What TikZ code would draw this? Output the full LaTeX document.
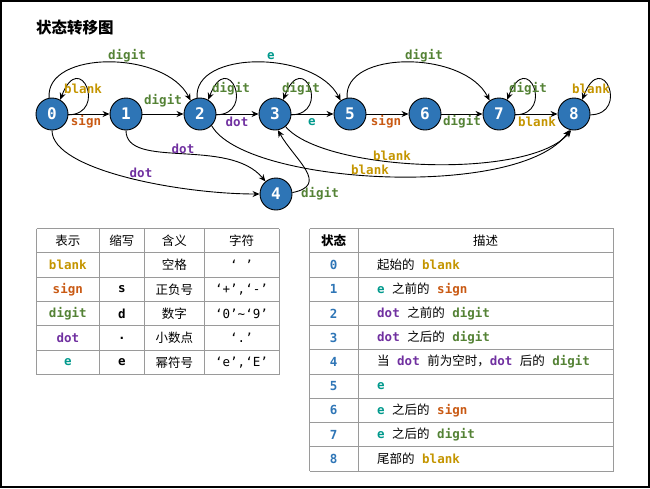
\documentclass[tikz,border=0pt]{standalone}
\usepackage{fontspec}
\setmainfont{Noto Sans CJK SC}
\setmonofont{DejaVu Sans Mono}
\usetikzlibrary{arrows.meta}
\definecolor{nblue}{HTML}{2E75B6}
\definecolor{cblank}{HTML}{C49500}
\definecolor{csign}{HTML}{C95A14}
\definecolor{cdigit}{HTML}{548235}
\definecolor{cdot}{HTML}{7030A0}
\definecolor{ce}{HTML}{00998C}
\definecolor{tgray}{HTML}{9A9A9A}
\newcommand{\kw}[2]{\textcolor{#1}{\ttfamily\bfseries #2}}
\newcommand{\gp}{\hspace{7.5pt}}
\tikzset{
  state/.style={circle, fill=nblue, draw=black, line width=0.9pt, minimum size=32pt, inner sep=0pt,
    text=white, font=\ttfamily\bfseries\fontsize{16}{16}\selectfont},
  arr/.style={-{Stealth[length=7pt,width=6pt]}, line width=0.9pt, black},
  lbl/.style={font=\ttfamily\bfseries\fontsize{12.5}{14}\selectfont, inner sep=0.5pt},
  tline/.style={draw=tgray, line width=0.9pt},
  cell/.style={font=\fontsize{12.5}{14}\selectfont, inner sep=0pt},
  mcell/.style={font=\ttfamily\fontsize{12.5}{14}\selectfont, inner sep=0pt},
  bcell/.style={font=\ttfamily\bfseries\fontsize{12.5}{14}\selectfont, inner sep=0pt}
}
\begin{document}
\begin{tikzpicture}[x=1pt,y=-1pt]
\useasboundingbox (0,0) rectangle (650,488);
\draw[line width=2pt] (1,1) rectangle (649,487);
\node[anchor=west, font=\bfseries\fontsize{15.5}{18}\selectfont, inner sep=0pt] (title) at (36,28) {状态转移图};

% states
\node[state] (n0) at (52,114) {0};
\node[state] (n1) at (126,114) {1};
\node[state] (n2) at (200,114) {2};
\node[state] (n3) at (275,114) {3};
\node[state] (n5) at (350,114) {5};
\node[state] (n6) at (425,114) {6};
\node[state] (n7) at (499,114) {7};
\node[state] (n8) at (574,114) {8};
\node[state] (n4) at (276,194) {4};

% straight transitions
\draw[arr] (n0) -- (n1);
\draw[arr] (n1) -- (n2);
\draw[arr] (n2) -- (n3);
\draw[arr] (n3) -- (n5);
\draw[arr] (n5) -- (n6);
\draw[arr] (n6) -- (n7);
\draw[arr] (n7) -- (n8);

% self loops
\draw[arr] (n0.-3) .. controls (108,114) and (80,48) .. (n0.60);
\draw[arr] (n2.-3) .. controls (256,114) and (228,48) .. (n2.60);
\draw[arr] (n3.-3) .. controls (331,114) and (303,48) .. (n3.60);
\draw[arr] (n7.-3) .. controls (555,114) and (527,48) .. (n7.60);
\draw[arr] (n8.-3) .. controls (630,114) and (602,48) .. (n8.60);

% upper arcs
\draw[arr] (n0.100) .. controls (45,50) and (165,50) .. (n2.125);
\draw[arr] (n2.100) .. controls (193,50) and (315,50) .. (n5.125);
\draw[arr] (n5.100) .. controls (343,50) and (464,50) .. (n7.125);

% lower curves
\draw[arr] (n1.south) .. controls (126,170) and (229,137) .. (n4.130);
\draw[arr] (n0.south) .. controls (52,170) and (180,194) .. (n4.west);
\draw[arr] (n4.5) .. controls (330,185) and (295,160) .. (n3.-80);
\draw[arr] (n3.-50) .. controls (324,172) and (530,180) .. (n8.-100);
\draw[arr] (n2.-45) .. controls (245,185) and (520,200) .. (n8.-105);

% labels
\node[lbl, text=cblank] (lb0) at (83,89) {blank};
\node[lbl, text=csign] (ls01) at (86,122) {sign};
\node[lbl, text=cdigit] (ld02) at (127,56) {digit};
\node[lbl, text=cdigit] (ld12) at (163,101) {digit};
\node[lbl, text=cdigit] (ld22) at (231,89) {digit};
\node[lbl, text=cdot] (lo23) at (237,122) {dot};
\node[lbl, text=ce] (le25) at (271,56) {e};
\node[lbl, text=cdigit] (ld33) at (301,89) {digit};
\node[lbl, text=ce] (le35) at (312,122) {e};
\node[lbl, text=cdigit] (ld57) at (424,56) {digit};
\node[lbl, text=csign] (ls56) at (386,122) {sign};
\node[lbl, text=cdigit] (ld67) at (462,122) {digit};
\node[lbl, text=cdigit] (ld77) at (528,89) {digit};
\node[lbl, text=cblank] (lb78) at (537,122) {blank};
\node[lbl, text=cblank] (lb88) at (591,89) {blank};
\node[lbl, text=cdot] (lo14) at (183,149) {dot};
\node[lbl, text=cdot] (lo04) at (141,173) {dot};
\node[lbl, text=cdigit] (ld43) at (320,194) {digit};
\node[lbl, text=cblank] (lb38) at (392,156) {blank};
\node[lbl, text=cblank] (lb28) at (370,170) {blank};

% left table
\foreach \k in {0,...,6} \draw[tline] (36.5,228.5+24.33*\k) -- (279,228.5+24.33*\k);
\foreach \xx in {36.5,99,144.5,204,279} \draw[tline] (\xx,228.5) -- (\xx,374.5);
\node[cell] (h1) at (67.8,240.7) {表示};
\node[cell] (h2) at (121.8,240.7) {缩写};
\node[cell] (h3) at (174.3,240.7) {含义};
\node[cell] (h4) at (241.5,240.7) {字符};
\node[bcell, text=cblank] (a1) at (67.8,265) {blank};
\node[cell] (c1) at (174.3,265) {空格};
\node[mcell] (d1) at (241.5,265) {‘ ’};
\node[bcell, text=csign] (a2) at (67.8,289.4) {sign};
\node[bcell] (b2) at (121.8,289.4) {s};
\node[cell] (c2) at (174.3,289.4) {正负号};
\node[mcell] (d2) at (241.5,289.4) {‘+’,‘-’};
\node[bcell, text=cdigit] (a3) at (67.8,313.7) {digit};
\node[bcell] (b3) at (121.8,313.7) {d};
\node[cell] (c3) at (174.3,313.7) {数字};
\node[mcell] (d3) at (241.5,313.7) {‘0’\textasciitilde‘9’};
\node[bcell, text=cdot] (a4) at (67.8,338) {dot};
\node[bcell] (b4) at (121.8,338) {.};
\node[cell] (c4) at (174.3,338) {小数点};
\node[mcell] (d4) at (241.5,338) {‘.’};
\node[bcell, text=ce] (a5) at (67.8,362.4) {e};
\node[bcell] (b5) at (121.8,362.4) {e};
\node[cell] (c5) at (174.3,362.4) {幂符号};
\node[mcell] (d5) at (241.5,362.4) {‘e’,‘E’};

% right table
\foreach \k in {0,...,10} \draw[tline] (309.5,228.5+24.25*\k) -- (613.5,228.5+24.25*\k);
\foreach \xx in {309.5,358,613.5} \draw[tline] (\xx,228.5) -- (\xx,471);
\node[cell, font=\bfseries\fontsize{12.5}{14}\selectfont] (s0h) at (333.7,240.6) {状态};
\node[cell] (dsh) at (485.7,240.6) {描述};
\foreach \i/\txt in {
  0/{起始的\gp\kw{cblank}{blank}},
  1/{\kw{ce}{e}\gp 之前的\gp\kw{csign}{sign}},
  2/{\kw{cdot}{dot}\gp 之前的\gp\kw{cdigit}{digit}},
  3/{\kw{cdot}{dot}\gp 之后的\gp\kw{cdigit}{digit}},
  4/{当\gp\kw{cdot}{dot}\gp 前为空时，\kw{cdot}{dot}\gp 后的\gp\kw{cdigit}{digit}},
  5/{\kw{ce}{e}},
  6/{\kw{ce}{e}\gp 之后的\gp\kw{csign}{sign}},
  7/{\kw{ce}{e}\gp 之后的\gp\kw{cdigit}{digit}},
  8/{尾部的\gp\kw{cblank}{blank}}}{
  \node[bcell, text=nblue] (sn\i) at (333.7,{228.5+24.25*(\i+1.5)}) {\i};
  \node[cell, anchor=west] (sd\i) at (377,{228.5+24.25*(\i+1.5)}) {\txt};
}
\end{tikzpicture}
\end{document}
